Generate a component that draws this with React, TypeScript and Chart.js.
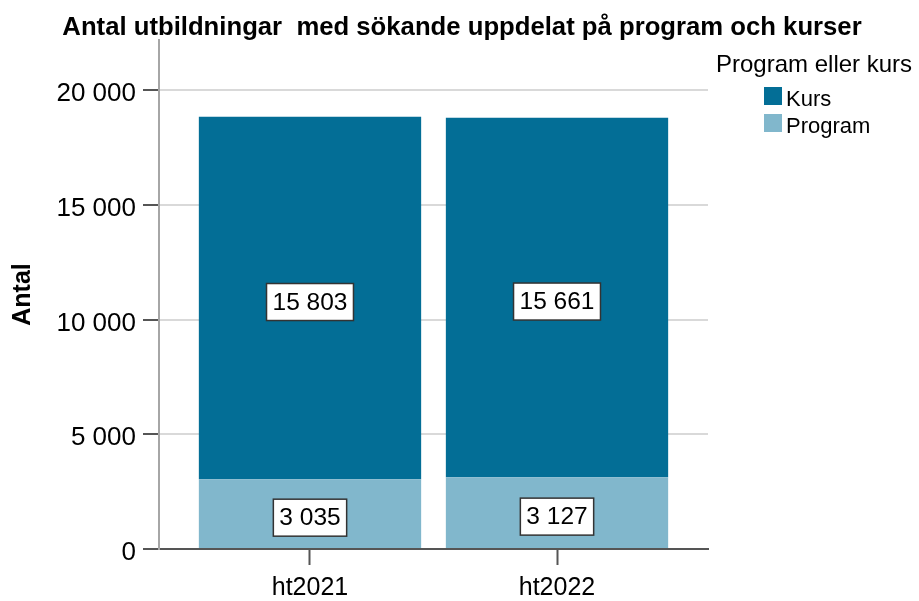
import React, { useEffect, useRef } from "react";
import { Chart, registerables } from "chart.js";

Chart.register(...registerables);

// ---- Data ----
const categories = ["ht2021", "ht2022"];
const kursValues = [15803, 15661];
const programValues = [3035, 3127];
const yTickValues = [0, 5000, 10000, 15000, 20000];
const seriesNames = ["Program", "Kurs"];
const seriesColors = ["#81b7cc", "#036e96"];
const chartTitle = "Antal utbildningar  med sökande uppdelat på program och kurser";
const yAxisTitle = "Antal";
const legendTitle = "Program eller kurs";

const FONT = "'Liberation Sans', Arial, sans-serif";

function fmt(v: number): string {
  return String(Math.round(v)).replace(/\B(?=(\d{3})+(?!\d))/g, " ");
}

const overlayPlugin = {
  id: "overlay",
  afterDatasetsDraw(chart: any) {
    const ctx = chart.ctx;
    ctx.save();
    chart.data.datasets.forEach((ds: any, di: number) => {
      const meta = chart.getDatasetMeta(di);
      meta.data.forEach((el: any, i: number) => {
        const { x, y, base } = el.getProps(["x", "y", "base"], true);
        const cy = (y + base) / 2 + 4;
        const txt = fmt(ds.data[i].y);
        ctx.font = `24.5px ${FONT}`;
        const w = ctx.measureText(txt).width + 12;
        const h = 37;
        ctx.fillStyle = "#ffffff";
        ctx.fillRect(x - w / 2, cy - h / 2, w, h);
        ctx.strokeStyle = "#333333";
        ctx.lineWidth = 1.5;
        ctx.strokeRect(x - w / 2, cy - h / 2, w, h);
        ctx.fillStyle = "#000000";
        ctx.textAlign = "center";
        ctx.textBaseline = "middle";
        ctx.fillText(txt, x, cy + 1);
      });
    });
    ctx.restore();
  },
  afterDraw(chart: any) {
    const ctx = chart.ctx;
    ctx.save();
    // Title
    ctx.fillStyle = "#000000";
    ctx.font = `bold 25.7px ${FONT}`;
    ctx.textAlign = "center";
    ctx.textBaseline = "alphabetic";
    ctx.fillText(chartTitle, 462, 35);
    // Legend
    ctx.textAlign = "left";
    ctx.font = `24px ${FONT}`;
    ctx.fillText(legendTitle, 716, 72);
    const items = chart.data.datasets.map((d: any) => ({ label: d.label, color: d.backgroundColor })).reverse();
    ctx.font = `22px ${FONT}`;
    items.forEach((it: any, k: number) => {
      ctx.fillStyle = it.color;
      ctx.fillRect(764, 87 + k * 27, 18, 18);
      ctx.fillStyle = "#000000";
      ctx.fillText(it.label, 786, 106 + k * 27);
    });
    ctx.restore();
  },
};

export default function App() {
  const canvasRef = useRef<HTMLCanvasElement | null>(null);

  useEffect(() => {
    if (!canvasRef.current) return;
    Chart.defaults.font.family = FONT;
    const chart = new Chart(canvasRef.current, {
      type: "bar",
      data: {
        datasets: [
          {
            label: seriesNames[0],
            data: programValues.map((v, i) => ({ x: i + 1, y: v })),
            backgroundColor: seriesColors[0],
            borderWidth: 0,
          },
          {
            label: seriesNames[1],
            data: kursValues.map((v, i) => ({ x: i + 1, y: v })),
            backgroundColor: seriesColors[1],
            borderWidth: 0,
          },
        ],
      },
      options: {
        animation: false,
        responsive: true,
        maintainAspectRatio: false,
        layout: { padding: { top: 40, right: 211, left: 0, bottom: 0 } },
        datasets: { bar: { categoryPercentage: 1, barPercentage: 0.9 } },
        plugins: {
          legend: { display: false },
          title: { display: false },
          tooltip: { enabled: false },
        },
        scales: {
          x: {
            type: "linear",
            min: 0.3887,
            max: 2.6113,
            stacked: true,
            offset: false,
            afterBuildTicks: (s: any) => {
              s.ticks = categories.map((_, i) => ({ value: i + 1 }));
            },
            afterFit: (s: any) => {
              s.height = 52;
            },
            ticks: {
              callback: (v: any) => categories[Math.round(Number(v)) - 1] ?? "",
              font: { size: 25 },
              color: "#000000",
              padding: 8,
              maxRotation: 0,
              autoSkip: false,
            },
            grid: {
              offset: false,
              drawOnChartArea: false,
              drawTicks: true,
              tickLength: 16,
              tickColor: "#555555",
              tickWidth: 2,
            },
            border: { display: true, color: "#555555", width: 2 },
          },
          y: {
            type: "linear",
            min: 0,
            max: 22180,
            stacked: true,
            afterBuildTicks: (s: any) => {
              s.ticks = yTickValues.map((v) => ({ value: v }));
            },
            afterFit: (s: any) => {
              s.width = 159;
            },
            ticks: {
              callback: (v: any) => fmt(Number(v)),
              font: { size: 26 },
              color: "#000000",
              padding: 7,
              labelOffset: 4,
            },
            grid: {
              color: (c: any) => (c.tick && c.tick.value === 0 ? "rgba(0,0,0,0)" : "#d9d9d9"),
              lineWidth: 2,
              tickLength: 16,
              tickColor: "#555555",
              tickWidth: 2,
            },
            border: { color: "#a6a6a6", width: 2 },
            title: {
              display: true,
              text: yAxisTitle,
              font: { size: 25, weight: "bold" },
              color: "#000000",
              padding: { top: 8, bottom: 0 },
            },
          },
        },
      },
      plugins: [overlayPlugin],
    } as any);
    return () => chart.destroy();
  }, []);

  return (
    <div style={{ position: "fixed", left: 0, top: 0, width: 919, height: 601, background: "#ffffff" }}>
      <canvas ref={canvasRef} />
    </div>
  );
}
